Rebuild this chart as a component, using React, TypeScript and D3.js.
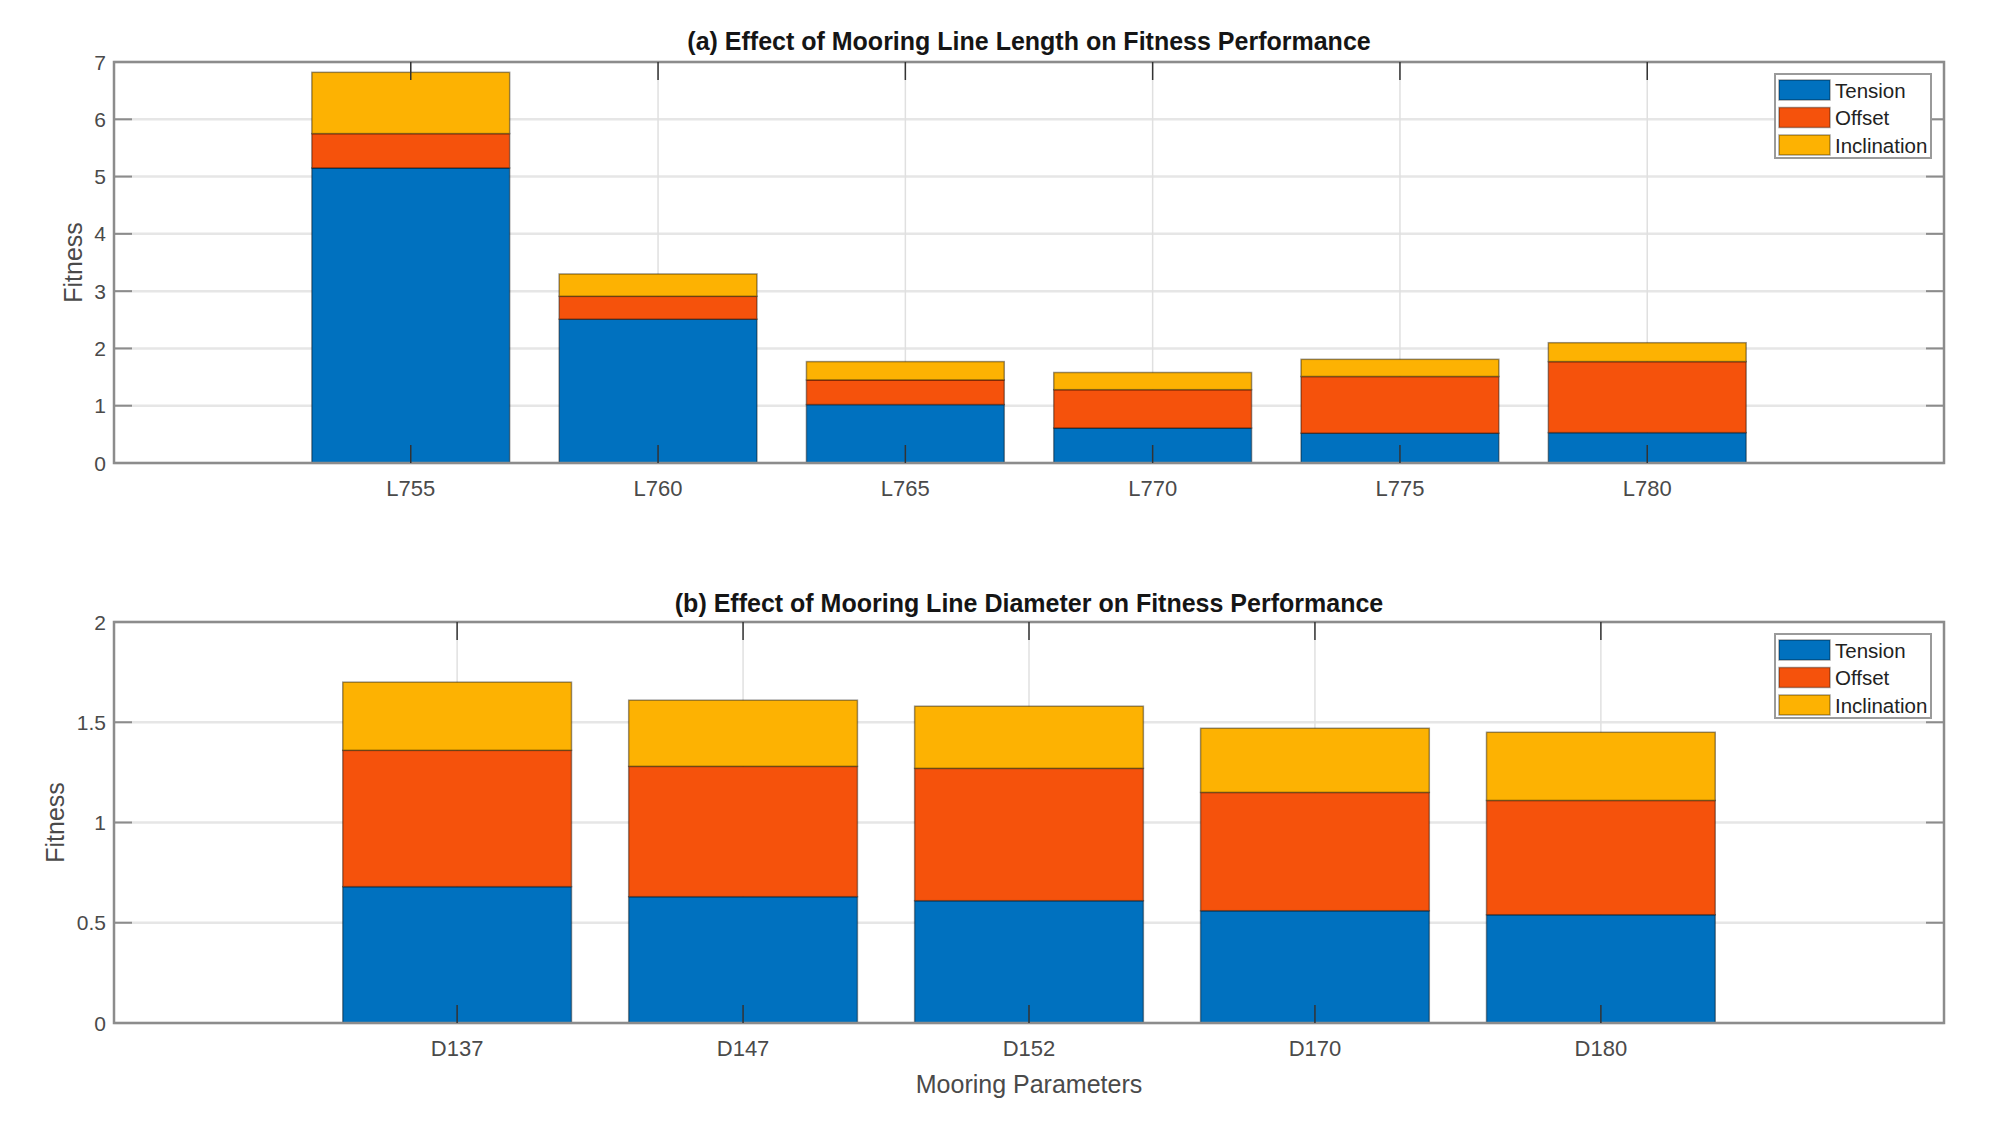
import React from 'react';
import * as d3 from 'd3';

// series keys + colours
const seriesKeys = ['Tension', 'Offset', 'Inclination'];
const seriesColors = ['#0071BF', '#F5520C', '#FDB202'];

// (a) mooring line length
const lengthCats = ['L755', 'L760', 'L765', 'L770', 'L775', 'L780'];
const lengthTension = [5.15, 2.51, 1.02, 0.61, 0.52, 0.53];
const lengthOffset = [0.6, 0.4, 0.43, 0.67, 0.99, 1.24];
const lengthIncl = [1.07, 0.39, 0.32, 0.3, 0.3, 0.33];
const lengthTicks = [0, 1, 2, 3, 4, 5, 6, 7];

// (b) mooring line diameter
const diamCats = ['D137', 'D147', 'D152', 'D170', 'D180'];
const diamTension = [0.68, 0.63, 0.61, 0.56, 0.54];
const diamOffset = [0.68, 0.65, 0.66, 0.59, 0.57];
const diamIncl = [0.34, 0.33, 0.31, 0.32, 0.34];
const diamTicks = [0, 0.5, 1, 1.5, 2];

const W = 1999;
const H = 1139;
const LEFT = 114;
const RIGHT = 1944;
const FONT = '"Liberation Sans", Arial, Helvetica, sans-serif';
const TICK_LEN = 18;

interface PanelProps {
  title: string;
  titleY: number;
  top: number;
  bottom: number;
  cats: string[];
  values: number[][];
  yTicks: number[];
  yLabelX: number;
}

const Panel: React.FC<PanelProps> = ({ title, titleY, top, bottom, cats, values, yTicks, yLabelX }) => {
  const n = cats.length;
  const x = d3.scaleLinear().domain([-0.2, n + 1.2]).range([LEFT, RIGHT]);
  const y = d3.scaleLinear().domain([0, yTicks[yTicks.length - 1]]).range([bottom, top]);

  const rows = cats.map((c, i) => {
    const r: any = { cat: c, pos: i + 1 };
    seriesKeys.forEach((k, j) => (r[k] = values[j][i]));
    return r;
  });
  const stacked = d3.stack<any>().keys(seriesKeys)(rows);
  const half = 0.4;

  // legend box
  const lgX = 1775;
  const lgY = top + 12;
  const lgW = 156;
  const lgH = 84;

  return (
    <g>
      <rect x={LEFT} y={top} width={RIGHT - LEFT} height={bottom - top} fill="#fff" />

      {/* grid */}
      {yTicks.map(t => (
        <line key={'gy' + t} x1={LEFT} x2={RIGHT} y1={y(t)} y2={y(t)} stroke="#e6e6e6" strokeWidth={2.5} />
      ))}
      {rows.map(r => (
        <line key={'gx' + r.cat} x1={x(r.pos)} x2={x(r.pos)} y1={top} y2={bottom} stroke="#e0e0e0" strokeWidth={1.5} />
      ))}

      {/* bars */}
      {stacked.map((s, j) => (
        <g key={s.key}>
          {s.map((d, i) => (
            <rect
              key={i}
              x={x(rows[i].pos - half)}
              width={x(rows[i].pos + half) - x(rows[i].pos - half)}
              y={y(d[1])}
              height={y(d[0]) - y(d[1])}
              fill={seriesColors[j]}
              stroke="#000"
              strokeOpacity={0.4}
              strokeWidth={1.5}
            />
          ))}
        </g>
      ))}

      {/* axes box */}
      <rect x={LEFT} y={top} width={RIGHT - LEFT} height={bottom - top} fill="none" stroke="#8c8c8c" strokeWidth={2.5} />

      {/* y ticks both sides */}
      {yTicks.map(t => (
        <g key={'yt' + t}>
          <line x1={LEFT} x2={LEFT + TICK_LEN} y1={y(t)} y2={y(t)} stroke="#8c8c8c" strokeWidth={2} />
          <line x1={RIGHT} x2={RIGHT - TICK_LEN} y1={y(t)} y2={y(t)} stroke="#8c8c8c" strokeWidth={2} />
          <text x={LEFT - 8} y={y(t)} textAnchor="end" dominantBaseline="central" fontSize={21} fill="#4a4a4a" fontFamily={FONT}>
            {d3.format('~g')(t)}
          </text>
        </g>
      ))}

      {/* x ticks top and bottom */}
      {rows.map(r => (
        <g key={'xt' + r.cat}>
          <line x1={x(r.pos)} x2={x(r.pos)} y1={bottom} y2={bottom - TICK_LEN} stroke="#333" strokeWidth={1.5} />
          <line x1={x(r.pos)} x2={x(r.pos)} y1={top} y2={top + TICK_LEN} stroke="#333" strokeWidth={1.5} />
          <text x={x(r.pos)} y={bottom + 33} textAnchor="middle" fontSize={22} fill="#4a4a4a" fontFamily={FONT}>
            {r.cat}
          </text>
        </g>
      ))}

      {/* y label */}
      <text
        transform={`translate(${yLabelX},${(top + bottom) / 2}) rotate(-90)`}
        textAnchor="middle"
        dominantBaseline="central"
        fontSize={25}
        fill="#4a4a4a"
        fontFamily={FONT}
      >
        Fitness
      </text>

      {/* title */}
      <text x={(LEFT + RIGHT) / 2} y={titleY} textAnchor="middle" fontSize={25} fontWeight="bold" fill="#151515" fontFamily={FONT}>
        {title}
      </text>

      {/* legend */}
      <rect x={lgX} y={lgY} width={lgW} height={lgH} fill="#fff" stroke="#9a9a9a" strokeWidth={2} />
      {seriesKeys.map((k, j) => {
        const cy = lgY + 16 + j * 27.5;
        return (
          <g key={'lg' + k}>
            <rect x={lgX + 4} y={cy - 10} width={51} height={20} fill={seriesColors[j]} stroke="#000" strokeOpacity={0.35} strokeWidth={1.5} />
            <text x={lgX + 60} y={cy} dominantBaseline="central" fontSize={20.5} fill="#222" fontFamily={FONT}>
              {k}
            </text>
          </g>
        );
      })}
    </g>
  );
};

const App: React.FC = () => {
  return (
    <svg
      width={W}
      height={H}
      viewBox={`0 0 ${W} ${H}`}
      style={{ position: 'absolute', left: 0, top: 0, display: 'block', background: '#fff' }}
    >
      <rect width={W} height={H} fill="#fff" />
      <Panel
        title="(a) Effect of Mooring Line Length on Fitness Performance"
        titleY={50}
        top={62}
        bottom={463}
        cats={lengthCats}
        values={[lengthTension, lengthOffset, lengthIncl]}
        yTicks={lengthTicks}
        yLabelX={73}
      />
      <Panel
        title="(b) Effect of Mooring Line Diameter on Fitness Performance"
        titleY={612}
        top={622}
        bottom={1023}
        cats={diamCats}
        values={[diamTension, diamOffset, diamIncl]}
        yTicks={diamTicks}
        yLabelX={55}
      />
      <text x={(LEFT + RIGHT) / 2} y={1093} textAnchor="middle" fontSize={25} fill="#4a4a4a" fontFamily={FONT}>
        Mooring Parameters
      </text>
    </svg>
  );
};

export default App;
